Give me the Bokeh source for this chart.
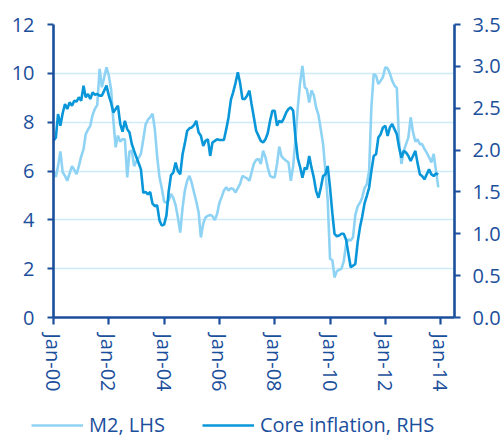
import pandas as pd
from datetime import datetime
from bokeh.plotting import figure
from bokeh.models import (Range1d, LinearAxis, DatetimeTickFormatter, FixedTicker,
                          NumeralTickFormatter, Legend, LegendItem, SingleIntervalTicker)
from bokeh.embed import file_html
from bokeh.resources import INLINE

# ---------------- data (monthly, Jan-2000 .. Dec-2013) ----------------
start_month = "2000-01-01"
n_months = 168

m2_lhs = [
    6.0, 5.75, 6.2, 6.8, 5.95, 5.8, 5.6, 5.9, 6.2, 6.05, 5.87, 6.2,
    6.6, 6.9, 7.5, 7.7, 7.85, 8.3, 8.55, 8.7, 10.18, 9.43, 9.84, 10.25,
    9.9, 9.3, 8.1, 6.97, 7.45, 7.2, 7.3, 7.3, 5.74, 6.8, 6.83, 6.2,
    6.4, 6.55, 6.7, 7.3, 7.9, 8.1, 8.2, 8.35, 7.7, 6.6, 5.74, 5.3,
    4.75, 4.7, 4.8, 5.06, 4.9, 4.6, 4.1, 3.48, 4.5, 5.2, 5.6, 5.8,
    5.5, 5.1, 4.75, 4.3, 3.28, 3.85, 4.1, 4.17, 4.2, 4.15, 3.99, 4.24,
    4.7, 4.95, 5.2, 5.33, 5.2, 5.3, 5.26, 5.12, 5.3, 5.47, 5.8, 5.75,
    5.7, 5.6, 5.94, 6.3, 6.45, 6.5, 6.29, 6.83, 6.56, 6.15, 5.8, 5.75,
    5.74, 6.29, 7.0, 6.6, 6.5, 6.42, 6.35, 5.6, 6.2, 7.3, 8.6, 9.6,
    10.3, 9.43, 9.35, 8.8, 9.3, 9.1, 8.6, 8.3, 7.7, 7.1, 6.0, 4.8,
    2.4, 2.35, 1.64, 1.9, 1.95, 2.0, 2.3, 3.0, 3.2, 3.15, 3.3, 4.2,
    4.55, 4.7, 4.9, 5.3, 5.45, 6.0, 8.6, 9.97, 9.9, 9.56, 9.7, 9.85,
    10.25, 10.2, 10.0, 9.7, 9.5, 9.4, 7.2, 6.29, 6.83, 7.1, 7.38, 8.2,
    7.6, 7.2, 7.3, 7.1, 7.1, 6.9, 6.75, 6.56, 6.35, 6.7, 6.0, 5.33,
]

core_rhs = [
    2.11, 2.15, 2.43, 2.29, 2.44, 2.55, 2.49, 2.57, 2.53, 2.59, 2.58, 2.63,
    2.59, 2.77, 2.63, 2.67, 2.61, 2.69, 2.66, 2.67, 2.65, 2.65, 2.71, 2.77,
    2.65, 2.56, 2.45, 2.49, 2.53, 2.31, 2.22, 2.35, 2.25, 2.21, 2.07, 1.99,
    1.91, 1.84, 1.77, 1.49, 1.50, 1.47, 1.50, 1.36, 1.33, 1.34, 1.16, 1.10,
    1.11, 1.22, 1.50, 1.70, 1.73, 1.85, 1.75, 1.71, 1.95, 2.08, 2.23, 2.26,
    2.27, 2.30, 2.35, 2.21, 2.17, 2.05, 2.11, 2.13, 1.93, 2.09, 2.11, 2.13,
    2.12, 2.12, 2.12, 2.25, 2.39, 2.60, 2.69, 2.80, 2.93, 2.80, 2.61, 2.61,
    2.65, 2.71, 2.55, 2.39, 2.23, 2.17, 2.11, 2.09, 2.13, 2.20, 2.35, 2.47,
    2.47, 2.29, 2.35, 2.33, 2.38, 2.45, 2.49, 2.51, 2.47, 2.15, 1.90, 1.80,
    1.67, 1.79, 1.77, 1.93, 1.79, 1.67, 1.51, 1.43, 1.55, 1.69, 1.71, 1.81,
    1.55, 1.24, 1.00, 0.97, 0.98, 1.00, 1.00, 0.93, 0.76, 0.60, 0.62, 0.64,
    0.90, 1.08, 1.20, 1.36, 1.45, 1.55, 1.75, 1.93, 1.95, 2.15, 2.19, 2.27,
    2.29, 2.17, 2.27, 2.31, 2.25, 2.19, 2.03, 1.91, 1.99, 1.97, 1.93, 1.87,
    1.93, 1.99, 1.85, 1.71, 1.69, 1.65, 1.71, 1.77, 1.71, 1.69, 1.72, 1.71,
]

tick_years = [2000, 2002, 2004, 2006, 2008, 2010, 2012, 2014]
series_labels = ["M2, LHS", "Core inflation, RHS"]

dates = pd.date_range(start_month, periods=n_months, freq="MS")

# ---------------- styling ----------------
NAVY = "#1b4f9c"
LIGHT = "#8fd3f4"
MID = "#0a97da"
GRID = "#cdebf8"
FONT = "Open Sans"

p = figure(width=504, height=400, x_axis_type="datetime",
           x_range=Range1d(datetime(2000, 1, 1), datetime(2014, 7, 3)),
           y_range=Range1d(0, 12),
           output_backend="svg", toolbar_location=None,
           min_border_left=53, min_border_right=50,
           min_border_top=24, min_border_bottom=83)
p.outline_line_color = None
p.background_fill_color = "white"
p.border_fill_color = "white"

p.extra_y_ranges = {"rhs": Range1d(0, 3.5)}

r_m2 = p.line(dates, m2_lhs, line_color=LIGHT, line_width=2.6)
r_core = p.line(dates, core_rhs, line_color=MID, line_width=2.6, y_range_name="rhs")

# x axis
xa = p.xaxis[0]
tick_ms = [pd.Timestamp(f"{y}-01-01").value // 10**6 for y in tick_years]
xa.ticker = FixedTicker(ticks=tick_ms)
fmt = "%b-%y"
xa.formatter = DatetimeTickFormatter(microseconds=fmt, milliseconds=fmt, seconds=fmt,
                                     minsec=fmt, minutes=fmt, hourmin=fmt, hours=fmt,
                                     days=fmt, months=fmt, years=fmt)
xa.major_label_orientation = "vertical"

# left axis
ya = p.yaxis[0]
ya.ticker = SingleIntervalTicker(interval=2)

# right axis
ra = LinearAxis(y_range_name="rhs", ticker=SingleIntervalTicker(interval=0.5),
                formatter=NumeralTickFormatter(format="0.0"))
p.add_layout(ra, "right")

for ax in (xa, ya, ra):
    ax.axis_line_color = NAVY
    ax.axis_line_width = 2.6
    ax.major_tick_line_color = NAVY
    ax.major_tick_line_width = 2.2
    ax.major_tick_out = 6
    ax.major_tick_in = 0
    ax.minor_tick_line_color = None
    ax.major_label_text_color = NAVY
    ax.major_label_text_font = FONT
    ax.major_label_text_font_size = "20px"
xa.major_label_standoff = 9
xa.major_tick_out = 7
ya.major_label_standoff = 13
ra.major_label_standoff = 12

p.xgrid.grid_line_color = None
p.ygrid.grid_line_color = GRID
p.ygrid.grid_line_width = 1.6
p.ygrid.ticker = SingleIntervalTicker(interval=2)

# ---------------- legend strip below the chart (separate root) ----------------
lg = figure(width=504, height=39, x_range=Range1d(0, 1), y_range=Range1d(0, 1),
            output_backend="svg", toolbar_location=None,
            x_axis_location=None, y_axis_location=None, min_border=0)
lg.outline_line_color = None
lg.grid.visible = False
lg.border_fill_color = "white"
# same series drawn off-frame, only so that the legend keys carry their styles
k_m2 = lg.line(dates, m2_lhs, line_color=LIGHT, line_width=2.4)
k_core = lg.line(dates, core_rhs, line_color=MID, line_width=2.4)

legend = Legend(items=[LegendItem(label=series_labels[0], renderers=[k_m2]),
                       LegendItem(label=series_labels[1], renderers=[k_core])],
                orientation="horizontal", location=(31, 1),
                padding=0, margin=0, spacing=37,
                glyph_width=52, glyph_height=20, label_height=20,
                label_standoff=6,
                label_text_font=FONT, label_text_font_size="20px",
                label_text_color=NAVY,
                border_line_color=None, background_fill_alpha=0)
lg.add_layout(legend, "center")

open("out.html", "w").write(file_html([p, lg], INLINE))
